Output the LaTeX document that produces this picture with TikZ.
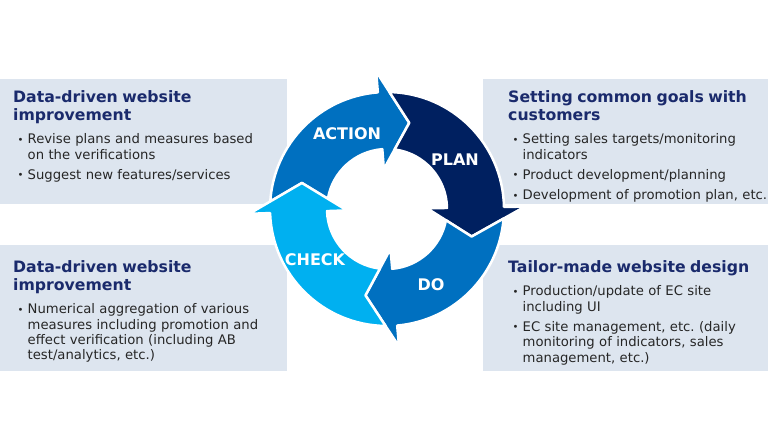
\documentclass[tikz,border=0pt]{standalone}
\usepackage{fontspec}
\setmainfont{DejaVu Sans}
\definecolor{boxfill}{HTML}{DDE5EF}
\definecolor{titlenavy}{HTML}{1A2A6C}
\definecolor{bodygray}{HTML}{262626}
\definecolor{midblue}{HTML}{0070C0}
\definecolor{darkblue}{HTML}{002060}
\definecolor{lightblue}{HTML}{00B0F0}
\frenchspacing
\newcommand{\boxtitle}[1]{{\fontsize{15.7}{18}\selectfont\bfseries\color{titlenavy}#1\par}\vspace{8.5pt}}
\newcommand{\bitem}[1]{\par\hangindent=14.5pt\hangafter=1\noindent
    \makebox[14.5pt][l]{\hspace{4.5pt}\raisebox{0.6pt}{\fontsize{10}{10}\selectfont\textbullet}}#1\par\vspace{5pt}}

\begin{document}
\begin{tikzpicture}[
            x=1pt, y=1pt,
            infobox/.style={rectangle, fill=boxfill, inner sep=0, anchor=north west},
            desc/.style={anchor=north west, inner sep=0, text width=290pt, align=left,
                         text=bodygray, font=\fontsize{13.2}{15.3}\selectfont},
            phase/.style={text=white, font=\fontsize{16}{19}\selectfont\bfseries},
            ring/.style={draw=white, line width=2.5pt, line join=round}
        ]
            \useasboundingbox (0,0) rectangle (768,432);

            % info boxes
            \node[infobox, minimum width=287pt, minimum height=125pt] (tlbox) at (0,353) {};
            \node[infobox, minimum width=285pt, minimum height=125pt] (trbox) at (483,353) {};
            \node[infobox, minimum width=287pt, minimum height=126pt] (blbox) at (0,187) {};
            \node[infobox, minimum width=285pt, minimum height=126pt] (brbox) at (483,187) {};

            % cycle arrows
            \begin{scope}[shift={(387,223)}]
                \foreach \prev/\base/\col in {182/94.5/midblue, 94.5/1/darkblue, 1/-85/midblue, -85/-178/lightblue}
                    \filldraw[ring, fill=\col] (\prev-5.7:117) arc[start angle=\prev-5.7, end angle=\base, radius=117pt]
                        -- (\base:138) -- (\base-19:89) -- (\base:40) -- (\base:60)
                        arc[start angle=\base, end angle=\prev-11.8, radius=60pt] -- (\prev-19:89) -- cycle;
            \end{scope}

            \node[phase] (action) at (347,298) {ACTION};
            \node[phase] (plan) at (455,272) {PLAN};
            \node[phase] (check) at (315,172) {CHECK};
            \node[phase] (do) at (431,147) {DO};

            % texts
            \node[desc] (tltext) at (13,342) {\boxtitle{Data-driven website\\improvement}
                \bitem{Revise plans and measures based\newline on the verifications}
                \bitem{Suggest new features/services}};
            \node[desc] (trtext) at (508,342) {\boxtitle{Setting common goals with\\customers}
                \bitem{Setting sales targets/monitoring\newline indicators}
                \bitem{Product development/planning}
                \bitem{Development of promotion plan, etc.}};
            \node[desc] (bltext) at (13,172) {\boxtitle{Data-driven website\\improvement}
                \bitem{Numerical aggregation of various\newline measures including promotion and\newline effect verification (including AB\newline test/analytics, etc.)}};
            \node[desc] (brtext) at (508,172) {\boxtitle{Tailor-made website design}
                \bitem{Production/update of EC site\newline including UI}
                \bitem{EC site management, etc. (daily\newline monitoring of indicators, sales\newline management, etc.)}};
        \end{tikzpicture}
\end{document}
